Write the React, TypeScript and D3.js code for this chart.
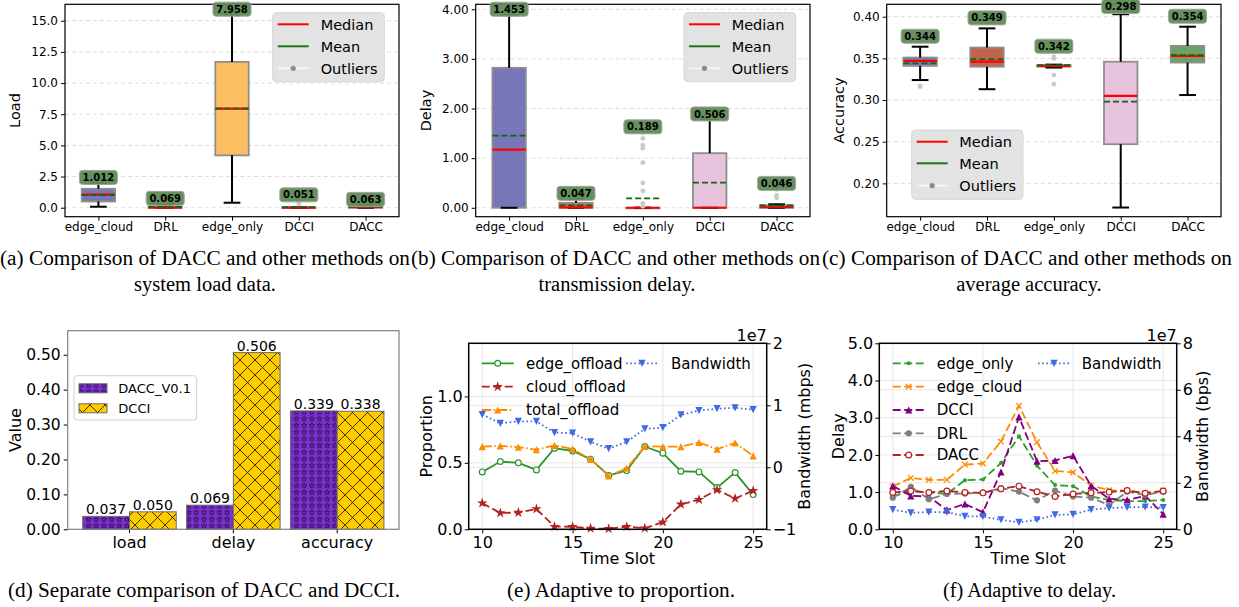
import React, { useEffect, useRef } from 'react';
import * as d3 from 'd3';

const W = 1239;
const H = 607;
const FONT = "'DejaVu Sans', sans-serif";
const SERIF = "'Liberation Serif', 'Times New Roman', serif";

// ---- box plot data: [whisker low, q1, median, q3, whisker high]
const methods = ['edge_cloud', 'DRL', 'edge_only', 'DCCI', 'DACC'];
const boxFills = ['#7676b8', '#c1644e', '#fcc062', '#e7c3de', '#6fa064'];

const loadStats = [
  [0.08, 0.5, 1.05, 1.52, 1.95],
  [0, 0, 0.01, 0.08, 0.27],
  [0.4, 4.2, 7.95, 11.7, 15.45],
  [0, 0, 0.01, 0.02, 0.04],
  [0, 0, 0.04, 0.12, 0.19],
];
const loadMeans = [1.012, 0.069, 7.958, 0.051, 0.063];
const loadOutliers = [[], [], [], [0.3, 0.42, 0.55], []];

const delayStats = [
  [0, 0, 1.17, 2.82, 3.88],
  [0, 0, 0.005, 0.1, 0.17],
  [0, 0, 0, 0, 0],
  [0, 0, 0, 1.1, 1.77],
  [0, 0, 0.01, 0.05, 0.07],
];
const delayMeans = [1.453, 0.047, 0.189, 0.506, 0.046];
const delayOutliers = [[], [], [0.03, 0.09, 0.34, 0.5, 0.91, 1.2, 1.26, 1.4, 1.51], [], [0.2, 0.25, 0.37]];

const accStats = [
  [0.324, 0.341, 0.347, 0.351, 0.364],
  [0.313, 0.34, 0.346, 0.363, 0.386],
  [0.339, 0.34, 0.341, 0.342, 0.3425],
  [0.171, 0.247, 0.305, 0.346, 0.403],
  [0.306, 0.345, 0.353, 0.365, 0.388],
];
const accMeans = [0.344, 0.349, 0.342, 0.298, 0.354];
const accOutliers = [[0.317, 0.316], [], [0.352, 0.35, 0.33, 0.319], [], []];

const boxLegend = ['Median', 'Mean', 'Outliers'];

// ---- grouped bars
const metrics = ['load', 'delay', 'accuracy'];
const versions = ['DACC_V0.1', 'DCCI'];
const daccV01 = [0.037, 0.069, 0.339];
const dcciVals = [0.05, 0.506, 0.338];

// ---- time series
const slots = [10, 11, 12, 13, 14, 15, 16, 17, 18, 19, 20, 21, 22, 23, 24, 25];
const edgeOffload = [0.432, 0.51, 0.5, 0.447, 0.61, 0.59, 0.528, 0.405, 0.442, 0.623, 0.573, 0.437, 0.432, 0.314, 0.427, 0.261];
const cloudOffload = [0.197, 0.123, 0.126, 0.153, 0.02, 0.019, 0.007, 0.004, 0.02, 0.008, 0.054, 0.188, 0.223, 0.296, 0.232, 0.291];
const totalOffload = [0.622, 0.628, 0.619, 0.599, 0.632, 0.604, 0.528, 0.402, 0.46, 0.625, 0.622, 0.622, 0.654, 0.603, 0.65, 0.553];
const bandwidth = [0.85, 0.71, 0.74, 0.74, 0.56, 0.55, 0.41, 0.3, 0.41, 0.62, 0.64, 0.845, 0.915, 0.945, 0.96, 0.93]; // x1e7

const edgeOnly = [0.88, 1.04, 0.99, 0.95, 1.32, 1.34, 1.78, 2.5, 1.71, 1.19, 1.16, 0.88, 0.79, 0.76, 0.76, 0.79];
const edgeCloud = [1.15, 1.38, 1.33, 1.33, 1.74, 1.77, 2.36, 3.32, 2.34, 1.57, 1.53, 1.18, 1.05, 1.04, 0.97, 1.04];
const dcciDelay = [1.17, 0.9, 0.88, 0.52, 0.68, 0.46, 1.54, 3.02, 1.83, 1.85, 1.98, 1.17, 0.82, 0.79, 0.9, 0.41];
const drlDelay = [0.85, 1.14, 0.81, 0.95, 0.96, 0.98, 1.11, 1.01, 0.78, 1.04, 0.88, 0.85, 0.65, 1.01, 0.92, 1.01];
const daccDelay = [0.99, 1.03, 0.99, 1.03, 0.99, 0.98, 1.09, 1.16, 1.01, 0.88, 0.95, 0.98, 1.0, 1.04, 0.97, 1.03];

type Sel = d3.Selection<any, any, any, any>;

function styleAxis(g: Sel, size: number) {
  g.select('.domain').remove();
  g.attr('font-family', FONT).attr('font-size', size);
  g.selectAll('text').attr('fill', '#000');
  g.selectAll('line').attr('stroke', '#000').attr('stroke-width', 1);
}

function drawMarker(g: Sel, type: string, cx: number, cy: number, color: string) {
  if (type === 'o') {
    g.append('circle').attr('cx', cx).attr('cy', cy).attr('r', 2.9)
      .attr('fill', '#fff').attr('stroke', color).attr('stroke-width', 1.2);
  } else if (type === 'O') {
    g.append('circle').attr('cx', cx).attr('cy', cy).attr('r', 3.1).attr('fill', color);
  } else if (type === '.') {
    g.append('circle').attr('cx', cx).attr('cy', cy).attr('r', 2).attr('fill', color);
  } else if (type === '*') {
    g.append('path').attr('d', d3.symbol(d3.symbolStar, 34)()!)
      .attr('transform', `translate(${cx},${cy})`).attr('fill', color);
  } else if (type === '^' || type === 'v') {
    const r = 3.6;
    const s = type === '^' ? 1 : -1;
    g.append('path').attr('d', `M${cx},${cy - s * r}L${cx - r},${cy + s * r}L${cx + r},${cy + s * r}Z`).attr('fill', color);
  } else if (type === 'x') {
    const r = 2.8;
    g.append('path').attr('d', `M${cx - r},${cy - r}L${cx + r},${cy + r}M${cx - r},${cy + r}L${cx + r},${cy - r}`)
      .attr('stroke', color).attr('stroke-width', 1.3);
  }
}

interface BoxCfg {
  x0: number; x1: number; y0: number; y1: number;
  domain: [number, number]; ticks: number[]; fmt: string;
  stats: number[][]; means: number[]; outliers: number[][];
  gap: number; ylabel: string; ylabelX: number;
  legend: { x: number; y: number; w: number; h: number; sx: number; tx: number; rows: number[] };
}

function drawBoxPanel(svg: Sel, p: BoxCfg) {
  const g = svg.append('g');
  const x = d3.scalePoint<string>().domain(methods).range([p.x0, p.x1]).padding(0.5);
  const y = d3.scaleLinear().domain(p.domain).range([p.y1, p.y0]);
  const step = x.step();

  g.selectAll('line.grid').data(p.ticks).join('line').attr('class', 'grid')
    .attr('x1', p.x0).attr('x2', p.x1).attr('y1', d => y(d)).attr('y2', d => y(d))
    .attr('stroke', '#d4d4d4').attr('stroke-width', 0.8).attr('stroke-dasharray', '4,3');

  const ay = g.append('g').attr('transform', `translate(${p.x0},0)`)
    .call(d3.axisLeft(y).tickValues(p.ticks).tickFormat(d3.format(p.fmt) as any).tickSize(4).tickPadding(3));
  styleAxis(ay, 12);
  const ax = g.append('g').attr('transform', `translate(0,${p.y1})`)
    .call(d3.axisBottom(x).tickSize(4).tickPadding(2));
  styleAxis(ax, 12);

  g.append('text').attr('transform', `translate(${p.ylabelX},${(p.y0 + p.y1) / 2}) rotate(-90)`)
    .attr('text-anchor', 'middle').attr('dy', '0.35em').attr('font-size', 14.5).text(p.ylabel);

  const bw = step * 0.5;
  const cw = step * 0.25;
  methods.forEach((m, i) => {
    const [lo, q1, med, q3, hi] = p.stats[i];
    const cx = x(m)!;
    g.append('rect').attr('x', cx - bw / 2).attr('width', bw)
      .attr('y', y(q3)).attr('height', Math.max(y(q1) - y(q3), 0.6))
      .attr('fill', boxFills[i]).attr('stroke', '#8e8e8e').attr('stroke-width', 1.8);
    [[q3, hi], [q1, lo]].forEach(([a, b]) => {
      if (a !== b) {
        g.append('line').attr('x1', cx).attr('x2', cx).attr('y1', y(a)).attr('y2', y(b))
          .attr('stroke', '#000').attr('stroke-width', 2);
      }
      g.append('line').attr('x1', cx - cw / 2).attr('x2', cx + cw / 2).attr('y1', y(b)).attr('y2', y(b))
        .attr('stroke', '#000').attr('stroke-width', 2);
    });
    g.append('line').attr('x1', cx - bw / 2).attr('x2', cx + bw / 2).attr('y1', y(med)).attr('y2', y(med))
      .attr('stroke', '#ff0000').attr('stroke-width', 2.2);
    g.append('line').attr('x1', cx - bw / 2).attr('x2', cx + bw / 2).attr('y1', y(p.means[i])).attr('y2', y(p.means[i]))
      .attr('stroke', '#146414').attr('stroke-width', 1.8).attr('stroke-dasharray', '6,3');
    p.outliers[i].forEach(v => {
      g.append('circle').attr('cx', cx).attr('cy', y(v)).attr('r', 2.4).attr('fill', '#c9c9c9');
    });
  });

  g.append('rect').attr('x', p.x0).attr('y', p.y0).attr('width', p.x1 - p.x0).attr('height', p.y1 - p.y0)
    .attr('fill', 'none').attr('stroke', '#000').attr('stroke-width', 1.2);

  // value labels above the highest point of each method
  methods.forEach((m, i) => {
    const top = d3.max([p.stats[i][4], ...p.outliers[i]])!;
    const cx = x(m)!;
    const cy = Math.max(y(top) - p.gap, 6.5);
    g.append('rect').attr('x', cx - 19).attr('y', cy - 7).attr('width', 38).attr('height', 14).attr('rx', 3)
      .attr('fill', '#5e8b56').attr('fill-opacity', 0.95).attr('stroke', '#a4a4a4').attr('stroke-width', 1);
    g.append('text').attr('x', cx).attr('y', cy).attr('dy', '0.36em').attr('text-anchor', 'middle')
      .attr('font-size', 10).attr('font-weight', 'bold').attr('fill', '#000').text(d3.format('.3f')(p.means[i]));
  });

  const L = p.legend;
  const lg = g.append('g');
  lg.append('rect').attr('x', L.x).attr('y', L.y).attr('width', L.w).attr('height', L.h).attr('rx', 4)
    .attr('fill', '#e3e3e3').attr('stroke', '#d6d6d6');
  const lcol = ['#ff0000', '#1a781a', '#f4f4f4'];
  boxLegend.forEach((name, k) => {
    const ry = L.rows[k];
    lg.append('line').attr('x1', L.sx).attr('x2', L.sx + 31).attr('y1', ry).attr('y2', ry)
      .attr('stroke', lcol[k]).attr('stroke-width', 2);
    if (k === 2) lg.append('circle').attr('cx', L.sx + 15.5).attr('cy', ry).attr('r', 2.6).attr('fill', '#8c8c8c');
    lg.append('text').attr('x', L.tx).attr('y', ry).attr('dy', '0.36em').attr('font-size', 14.5).text(name);
  });
}

function makePatterns(svg: Sel) {
  const defs = svg.append('defs');
  const px = defs.append('pattern').attr('id', 'hx').attr('patternUnits', 'userSpaceOnUse')
    .attr('width', 15).attr('height', 15);
  px.append('path').attr('d', 'M0,0L15,15M15,0L0,15M-1,14L1,16M14,-1L16,1')
    .attr('stroke', '#000').attr('stroke-opacity', 0.75).attr('stroke-width', 1);
  const ps = defs.append('pattern').attr('id', 'hs').attr('patternUnits', 'userSpaceOnUse')
    .attr('width', 7.7).attr('height', 6.7);
  ps.append('path').attr('d', d3.symbol(d3.symbolStar, 9)()!).attr('transform', 'translate(3.85,3.35)')
    .attr('fill', 'none').attr('stroke', '#1c0a33').attr('stroke-width', 0.7);
}

function drawBarPanel(svg: Sel) {
  const x0 = 67.7, x1 = 399, y0 = 330.7, y1 = 529.3;
  const g = svg.append('g');
  const x = d3.scaleBand<string>().domain(metrics).range([x0, x1]).paddingInner(0).paddingOuter(0.095);
  const step = x.step();
  const inner = d3.scaleBand<string>().domain(versions).range([-0.45 * step, 0.45 * step]);
  const y = d3.scaleLinear().domain([0, 0.5687]).range([y1, y0]);
  const series = [daccV01, dcciVals];
  const fills = ['#7b2fcc', '#ffcc00'];
  const hatch = ['url(#hs)', 'url(#hx)'];

  metrics.forEach((m, i) => {
    versions.forEach((v, k) => {
      const val = series[k][i];
      const bx = x(m)! + step / 2 + inner(v)!;
      const attrs = (r: Sel) => r.attr('x', bx).attr('width', inner.bandwidth()).attr('y', y(val)).attr('height', y(0) - y(val));
      g.append('rect').call(attrs).attr('fill', fills[k]);
      g.append('rect').call(attrs).attr('fill', hatch[k]).attr('stroke', '#6b6b6b').attr('stroke-width', 1);
      g.append('text').attr('x', bx + inner.bandwidth() / 2).attr('y', y(val) - 2).attr('text-anchor', 'middle')
        .attr('font-size', 14).text(d3.format('.3f')(val));
    });
  });

  const ay = g.append('g').attr('transform', `translate(${x0},0)`)
    .call(d3.axisLeft(y).tickValues([0, 0.1, 0.2, 0.3, 0.4, 0.5]).tickFormat(d3.format('.2f') as any).tickSize(4).tickPadding(3));
  styleAxis(ay, 15.5);
  const ax = g.append('g').attr('transform', `translate(0,${y1})`)
    .call(d3.axisBottom(x).tickSize(4).tickPadding(3));
  styleAxis(ax, 16);
  g.append('rect').attr('x', x0).attr('y', y0).attr('width', x1 - x0).attr('height', y1 - y0)
    .attr('fill', 'none').attr('stroke', '#808080').attr('stroke-width', 1.2);
  g.append('text').attr('transform', `translate(15.8,${(y0 + y1) / 2}) rotate(-90)`)
    .attr('text-anchor', 'middle').attr('dy', '0.35em').attr('font-size', 16).text('Value');

  const lg = g.append('g');
  lg.append('rect').attr('x', 74).attr('y', 375.7).attr('width', 122.7).attr('height', 44.3).attr('rx', 3)
    .attr('fill', '#fff').attr('stroke', '#d0d0d0');
  versions.forEach((v, k) => {
    const ry = 388.3 + k * 20;
    lg.append('rect').attr('x', 79).attr('y', ry - 4.5).attr('width', 28).attr('height', 9).attr('fill', fills[k]);
    lg.append('rect').attr('x', 79).attr('y', ry - 4.5).attr('width', 28).attr('height', 9)
      .attr('fill', hatch[k]).attr('stroke', '#6b6b6b');
    lg.append('text').attr('x', 118.3).attr('y', ry).attr('dy', '0.36em').attr('font-size', 13).text(v);
  });
}

interface Series { name: string; values: number[]; color: string; dash: string; marker: string; right?: boolean }
interface LineCfg {
  x0: number; x1: number; y0: number; y1: number;
  lDomain: [number, number]; lTicks: number[]; lFmt: string;
  rDomain: [number, number]; rTicks: number[]; rLabels: string[];
  ylabel: string; ylabelX: number; rlabel: string; rlabelX: number;
  series: Series[];
  legend: { c1: number; t1: number; c2: number; t2: number; rows: number[] };
}

function drawLinePanel(svg: Sel, p: LineCfg) {
  const g = svg.append('g');
  const x = d3.scaleLinear().domain([9.25, 25.75]).range([p.x0, p.x1]);
  const yl = d3.scaleLinear().domain(p.lDomain).range([p.y1, p.y0]);
  const yr = d3.scaleLinear().domain(p.rDomain).range([p.y1, p.y0]);
  const xt = [10, 15, 20, 25];
  const grid = g.append('g').attr('stroke', '#e6e6e6').attr('stroke-width', 1);
  xt.forEach(t => grid.append('line').attr('x1', x(t)).attr('x2', x(t)).attr('y1', p.y0).attr('y2', p.y1));
  p.lTicks.forEach(t => grid.append('line').attr('x1', p.x0).attr('x2', p.x1).attr('y1', yl(t)).attr('y2', yl(t)));
  p.rTicks.forEach(t => grid.append('line').attr('x1', p.x0).attr('x2', p.x1).attr('y1', yr(t)).attr('y2', yr(t)));

  p.series.forEach(s => {
    const ys = s.right ? yr : yl;
    const line = d3.line<number>().x((_, i) => x(slots[i])).y(d => ys(d));
    g.append('path').attr('d', line(s.values)!).attr('fill', 'none').attr('stroke', s.color)
      .attr('stroke-width', 1.8).attr('stroke-dasharray', s.dash);
    s.values.forEach((v, i) => drawMarker(g, s.marker, x(slots[i]), ys(v), s.color));
  });

  const ax = g.append('g').attr('transform', `translate(0,${p.y1})`)
    .call(d3.axisBottom(x).tickValues(xt).tickFormat(d3.format('d') as any).tickSize(4).tickPadding(3));
  styleAxis(ax, 16);
  const ay = g.append('g').attr('transform', `translate(${p.x0},0)`)
    .call(d3.axisLeft(yl).tickValues(p.lTicks).tickFormat(d3.format(p.lFmt) as any).tickSize(4).tickPadding(2));
  styleAxis(ay, 16);
  const ar = g.append('g').attr('transform', `translate(${p.x1},0)`)
    .call(d3.axisRight(yr).tickValues(p.rTicks).tickFormat((_, i) => p.rLabels[i]).tickSize(4).tickPadding(2));
  styleAxis(ar, 16);

  g.append('rect').attr('x', p.x0).attr('y', p.y0).attr('width', p.x1 - p.x0).attr('height', p.y1 - p.y0)
    .attr('fill', 'none').attr('stroke', '#000').attr('stroke-width', 1.5);

  g.append('text').attr('x', p.x1).attr('y', p.y0 - 2).attr('text-anchor', 'end').attr('font-size', 16).text('1e7');
  g.append('text').attr('x', (p.x0 + p.x1) / 2).attr('y', 564).attr('text-anchor', 'middle').attr('font-size', 16).text('Time Slot');
  g.append('text').attr('transform', `translate(${p.ylabelX},${(p.y0 + p.y1) / 2}) rotate(-90)`)
    .attr('text-anchor', 'middle').attr('dy', '0.35em').attr('font-size', 16).text(p.ylabel);
  g.append('text').attr('transform', `translate(${p.rlabelX},${(p.y0 + p.y1) / 2}) rotate(-90)`)
    .attr('text-anchor', 'middle').attr('dy', '0.35em').attr('font-size', 16).text(p.rlabel);

  // legend: left-axis series in column 1, bandwidth in column 2
  const L = p.legend;
  let row = 0;
  p.series.forEach(s => {
    const sx = s.right ? L.c2 : L.c1;
    const tx = s.right ? L.t2 : L.t1;
    const ry = s.right ? L.rows[0] : L.rows[row++];
    g.append('line').attr('x1', sx).attr('x2', sx + 32).attr('y1', ry).attr('y2', ry)
      .attr('stroke', s.color).attr('stroke-width', 1.8).attr('stroke-dasharray', s.dash);
    drawMarker(g, s.marker, sx + 16, ry, s.color);
    g.append('text').attr('x', tx).attr('y', ry).attr('dy', '0.36em').attr('font-size', 15).text(s.name);
  });
}

const DASH = '8,3.5';
const DOT = '1.6,2.6';
const DASHDOT = '9.6,2.4,1.6,2.4';

function drawCaptions(svg: Sel) {
  const g = svg.append('g').attr('font-family', SERIF).attr('font-size', 20.5).attr('fill', '#000');
  const line1 = [
    { t: '(a) Comparison of DACC and other methods on', x: 0, w: 410 },
    { t: '(b) Comparison of DACC and other methods on', x: 411, w: 409 },
    { t: '(c) Comparison of DACC and other methods on', x: 822, w: 410 },
    { t: '(d) Separate comparison of DACC and DCCI.', x: 8, w: 392, y: 597 },
    { t: '(e) Adaptive to proportion.', x: 507, w: 228, y: 597 },
    { t: '(f) Adaptive to delay.', x: 943, w: 173, y: 597 },
  ];
  line1.forEach(c => {
    g.append('text').attr('x', c.x).attr('y', c.y ?? 265).attr('textLength', c.w)
      .attr('lengthAdjust', 'spacingAndGlyphs').text(c.t);
  });
  [['system load data.', 205], ['transmission delay.', 617], ['average accuracy.', 1029]].forEach(([t, cx]) => {
    g.append('text').attr('x', cx).attr('y', 291).attr('text-anchor', 'middle').text(t as string);
  });
}

function draw(svg: Sel) {
  makePatterns(svg);
  drawBoxPanel(svg, {
    x0: 65, x1: 399, y0: 4.3, y1: 216.7, domain: [-0.72, 16.32],
    ticks: [0, 2.5, 5, 7.5, 10, 12.5, 15], fmt: '.1f',
    stats: loadStats, means: loadMeans, outliers: loadOutliers, gap: 6,
    ylabel: 'Load', ylabelX: 15.3,
    legend: { x: 272.7, y: 12.7, w: 111.6, h: 69, sx: 277.7, tx: 320.7, rows: [24.3, 46.3, 68.3] },
  });
  drawBoxPanel(svg, {
    x0: 475.7, x1: 810, y0: 4.3, y1: 216.7, domain: [-0.18, 4.1],
    ticks: [0, 1, 2, 3, 4], fmt: '.2f',
    stats: delayStats, means: delayMeans, outliers: delayOutliers, gap: 6,
    ylabel: 'Delay', ylabelX: 426,
    legend: { x: 684, y: 12.7, w: 111.7, h: 69, sx: 689, tx: 731.7, rows: [24.3, 46.3, 68.3] },
  });
  drawBoxPanel(svg, {
    x0: 886.7, x1: 1221, y0: 4.3, y1: 216.7, domain: [0.16, 0.4149],
    ticks: [0.2, 0.25, 0.3, 0.35, 0.4], fmt: '.2f',
    stats: accStats, means: accMeans, outliers: accOutliers, gap: 10.5,
    ylabel: 'Accuracy', ylabelX: 838.7,
    legend: { x: 911.7, y: 130, w: 111.3, h: 69.3, sx: 916.7, tx: 959.3, rows: [141.7, 163.3, 185.7] },
  });
  drawBarPanel(svg);
  drawLinePanel(svg, {
    x0: 468.7, x1: 766.7, y0: 343.3, y1: 529.3,
    lDomain: [0, 1.4], lTicks: [0, 0.5, 1], lFmt: '.1f',
    rDomain: [-1, 2], rTicks: [-1, 0, 1, 2], rLabels: ['\u22121', '0', '1', '2'],
    ylabel: 'Proportion', ylabelX: 426.7, rlabel: 'Bandwidth (mbps)', rlabelX: 804,
    series: [
      { name: 'edge_offload', values: edgeOffload, color: '#2a962a', dash: 'none', marker: 'o' },
      { name: 'cloud_offload', values: cloudOffload, color: '#b22222', dash: DASH, marker: '*' },
      { name: 'total_offload', values: totalOffload, color: '#ff8c00', dash: DASHDOT, marker: '^' },
      { name: 'Bandwidth', values: bandwidth, color: '#4169e1', dash: DOT, marker: 'v', right: true },
    ],
    legend: { c1: 481.7, t1: 526, c2: 626, t2: 671, rows: [363.3, 386.7, 410] },
  });
  drawLinePanel(svg, {
    x0: 879.3, x1: 1176.7, y0: 343.3, y1: 529.3,
    lDomain: [0, 5], lTicks: [0, 1, 2, 3, 4, 5], lFmt: '.1f',
    rDomain: [0, 8], rTicks: [0, 2, 4, 6, 8], rLabels: ['0', '2', '4', '6', '8'],
    ylabel: 'Delay', ylabelX: 838.3, rlabel: 'Bandwidth (bps)', rlabelX: 1202,
    series: [
      { name: 'edge_only', values: edgeOnly, color: '#2ca02c', dash: DASH, marker: '.' },
      { name: 'edge_cloud', values: edgeCloud, color: '#ff8c00', dash: DASH, marker: 'x' },
      { name: 'DCCI', values: dcciDelay, color: '#800080', dash: DASH, marker: '^' },
      { name: 'DRL', values: drlDelay, color: '#808080', dash: DASH, marker: 'O' },
      { name: 'DACC', values: daccDelay, color: '#b22222', dash: DASH, marker: 'o' },
      { name: 'Bandwidth', values: bandwidth, color: '#4169e1', dash: DOT, marker: 'v', right: true },
    ],
    legend: { c1: 892.7, t1: 936.7, c2: 1038, t2: 1081.7, rows: [363.3, 386.7, 410, 433.3, 455] },
  });
  drawCaptions(svg);
}

export default function App() {
  const ref = useRef<SVGSVGElement>(null);
  useEffect(() => {
    const svg = d3.select(ref.current);
    svg.selectAll('*').remove();
    draw(svg as any);
  }, []);
  return (
    <svg ref={ref} width={W} height={H} fontFamily={FONT}
      style={{ position: 'absolute', left: 0, top: 0, background: '#fff' }} />
  );
}
